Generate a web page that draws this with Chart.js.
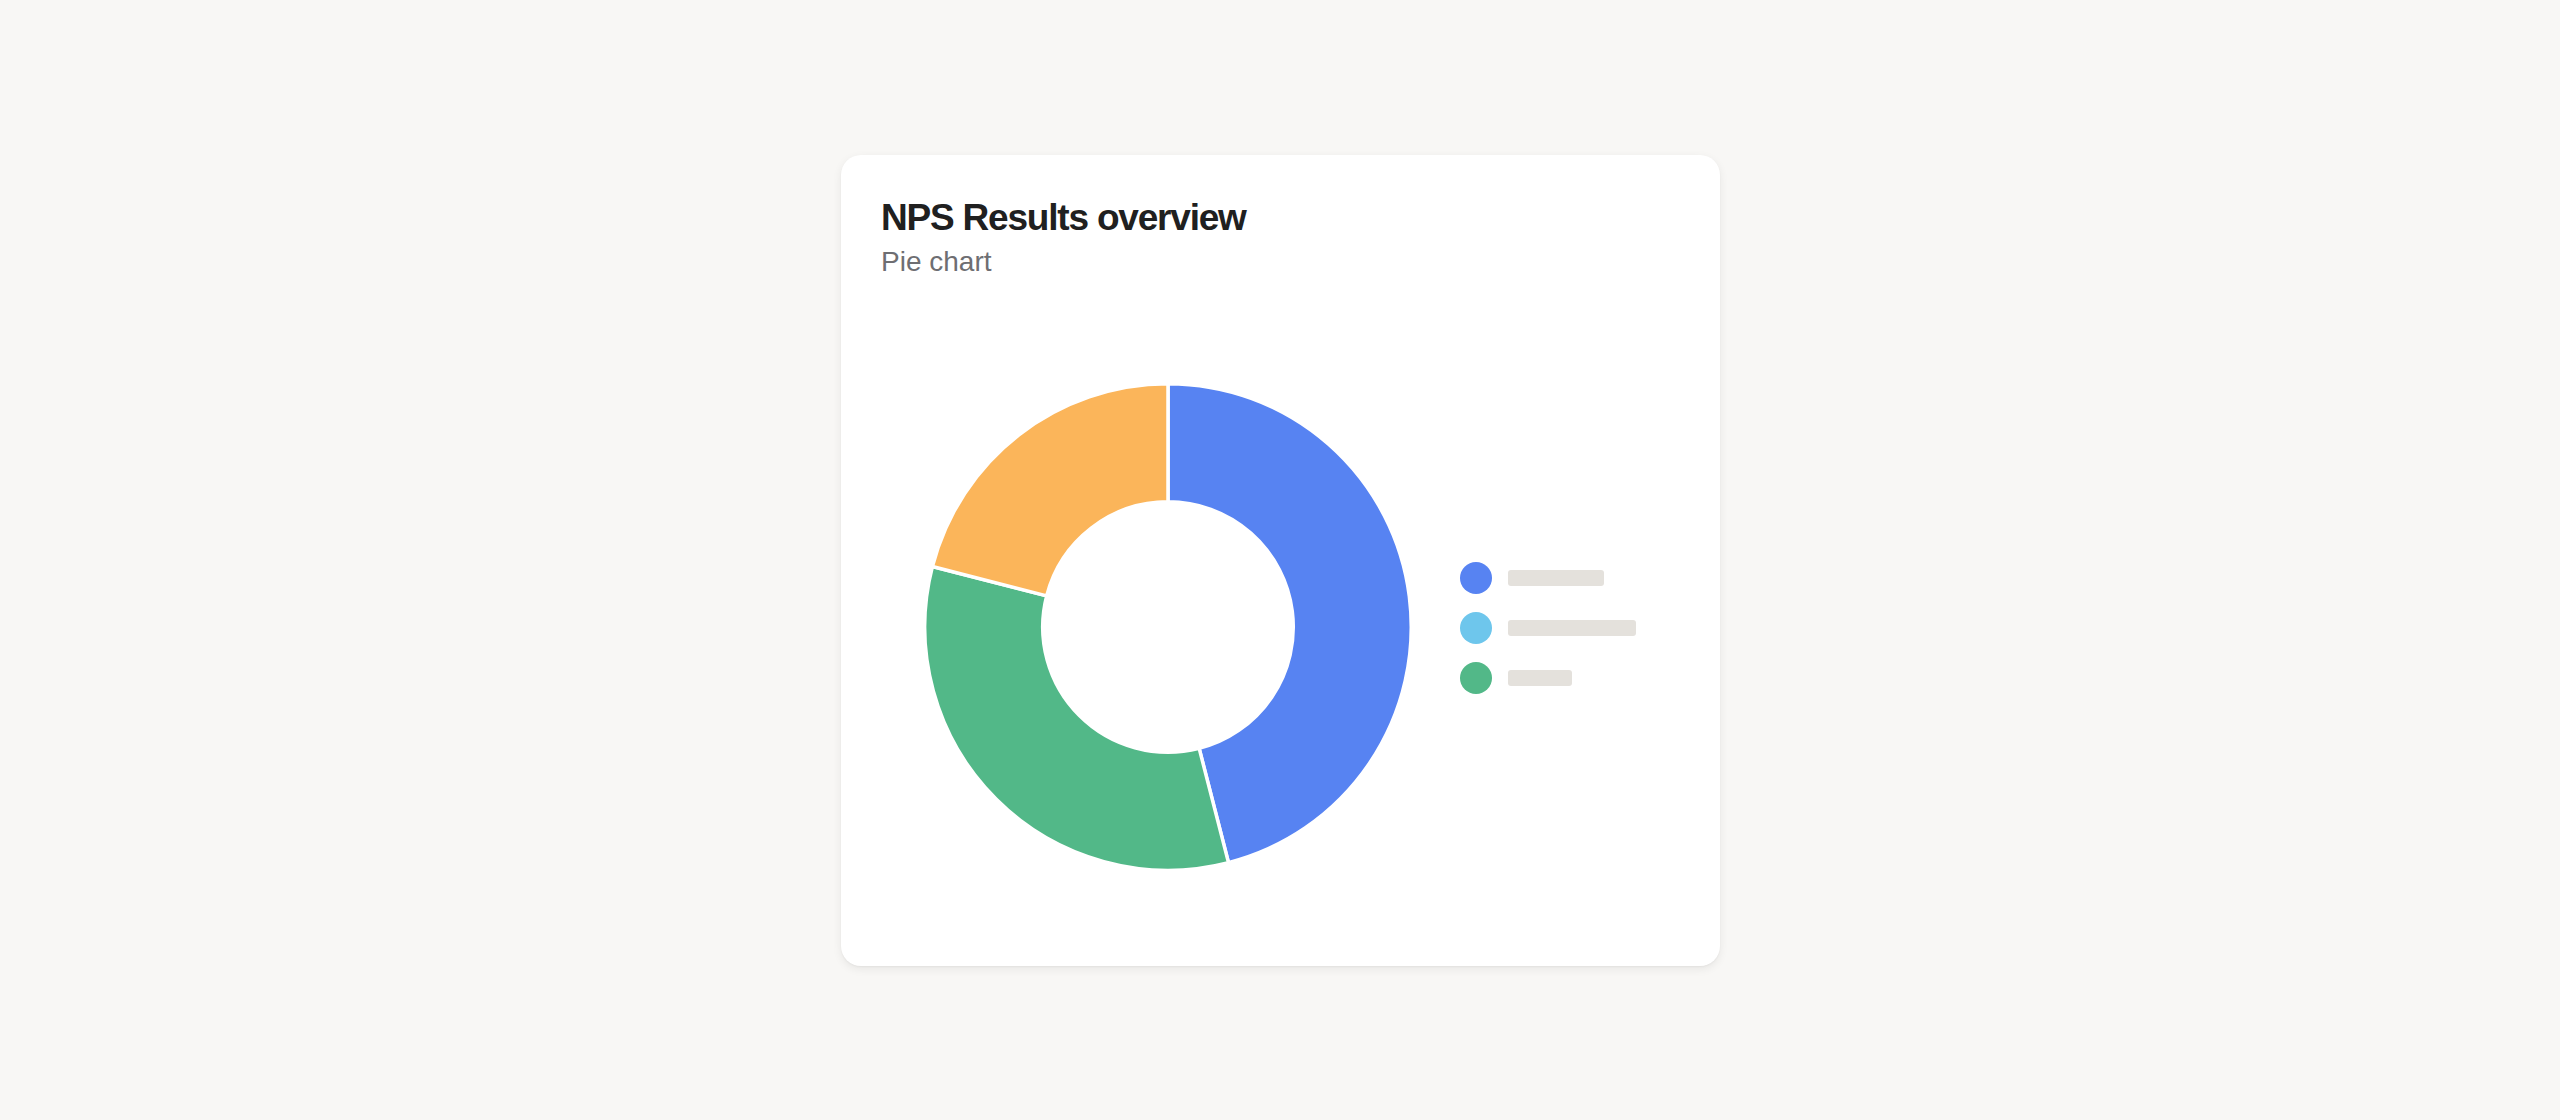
<!DOCTYPE html>
<html>
<head>
<meta charset="utf-8">
<title>NPS Results overview</title>
<script src="https://cdn.jsdelivr.net/npm/chart.js@4.4.1/dist/chart.umd.min.js"></script>
<style>
    html, body {
        margin: 0;
        padding: 0;
        width: 2560px;
        height: 1120px;
        background: #f8f7f5;
        overflow: hidden;
        font-family: "Helvetica Neue", Helvetica, "Liberation Sans", Arial, sans-serif;
    }
    .card {
        position: absolute;
        left: 841px;
        top: 155px;
        width: 879px;
        height: 811px;
        background: #ffffff;
        border-radius: 20px;
        box-shadow: 0 3px 10px rgba(0, 0, 0, 0.07), 0 1px 2px rgba(0, 0, 0, 0.04);
    }
    .title {
        position: absolute;
        left: 881px;
        top: 199px;
        margin: 0;
        font-size: 37px;
        line-height: 37px;
        font-weight: 700;
        letter-spacing: -1.2px;
        color: #202020;
        white-space: nowrap;
    }
    .subtitle {
        position: absolute;
        left: 881px;
        top: 248px;
        margin: 0;
        font-size: 28px;
        line-height: 28px;
        font-weight: 400;
        color: #6e6e72;
        white-space: nowrap;
    }
    .chart-box {
        position: absolute;
        left: 923px;
        top: 382px;
        width: 490px;
        height: 490px;
    }
    .legend {
        position: absolute;
        left: 1460px;
        top: 562px;
    }
    .legend-item {
        display: flex;
        align-items: center;
        height: 32px;
        margin-bottom: 18px;
    }
    .legend-dot {
        width: 32px;
        height: 32px;
        border-radius: 50%;
        margin-right: 16px;
    }
    .legend-bar {
        height: 16px;
        border-radius: 3px;
        background: #e4e1dc;
    }
</style>
</head>
<body>
<div class="card"></div>
<h1 class="title">NPS Results overview</h1>
<p class="subtitle">Pie chart</p>
<div class="chart-box"><canvas id="npsChart"></canvas></div>
<div class="legend" id="npsLegend"></div>

<script>
// Chart data
const sliceLabels = ['Promoters', 'Passives', 'Detractors', 'Other'];
const sliceValues = [46, 0, 33, 21];

// Styling
const sliceColors = ['#5783f2', '#6ec6ec', '#52b888', '#fbb55a'];
const legendCount = 3;
const legendBarWidths = [96, 128, 64];

document.addEventListener('DOMContentLoaded', function() {
    // Placeholder legend (dots + grey bars), first three slices only
    const legend = document.getElementById('npsLegend');
    for (let i = 0; i < legendCount; i++) {
        const item = document.createElement('div');
        item.className = 'legend-item';
        item.title = sliceLabels[i];

        const dot = document.createElement('span');
        dot.className = 'legend-dot';
        dot.style.background = sliceColors[i];

        const bar = document.createElement('span');
        bar.className = 'legend-bar';
        bar.style.width = legendBarWidths[i] + 'px';

        item.appendChild(dot);
        item.appendChild(bar);
        legend.appendChild(item);
    }

    const ctx = document.getElementById('npsChart');
    new Chart(ctx, {
        type: 'doughnut',
        data: {
            labels: sliceLabels,
            datasets: [{
                data: sliceValues,
                backgroundColor: sliceColors,
                borderColor: '#ffffff',
                borderWidth: 3.5,
                hoverOffset: 0,
            }]
        },
        options: {
            responsive: true,
            maintainAspectRatio: false,
            animation: false,
            cutout: '51.5%',
            layout: {
                padding: 0
            },
            plugins: {
                legend: {
                    display: false
                },
                tooltip: {
                    enabled: false
                }
            }
        }
    });
});
</script>
</body>
</html>
